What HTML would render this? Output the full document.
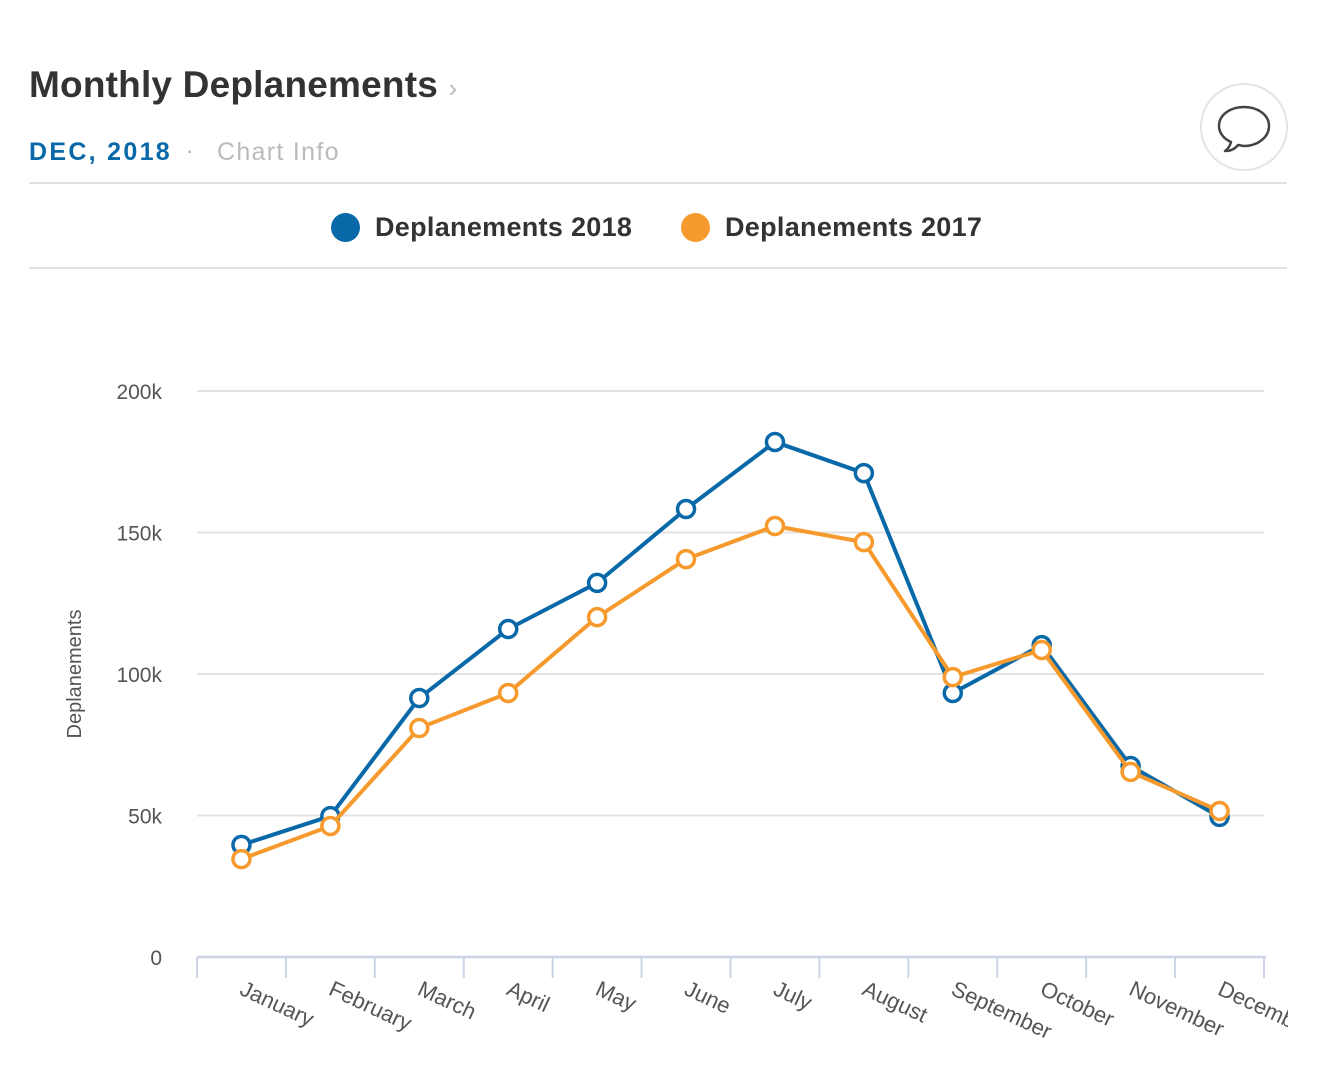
<!DOCTYPE html>
<html><head><meta charset="utf-8"><style>
body{margin:0;width:1326px;height:1086px;background:#fff;font-family:"Liberation Sans",sans-serif;overflow:hidden;position:relative}
.abs{position:absolute}
</style></head><body>
<div class="abs" style="left:29px;top:64px;font-size:37px;font-weight:bold;color:#333;letter-spacing:0.2px">Monthly Deplanements <span style="color:#bbb;font-weight:normal;font-size:26px">›</span></div>
<div class="abs" style="left:29px;top:138px;font-size:25px;font-weight:bold;color:#0868a8;letter-spacing:2.3px">DEC, 2018</div>
<div class="abs" style="left:186px;top:138px;font-size:22px;color:#aaa">·</div>
<div class="abs" style="left:217px;top:138px;font-size:25px;color:#bbb;letter-spacing:1.3px">Chart Info</div>
<div class="abs" style="left:1200px;top:83px;width:84px;height:84px;border:2px solid #e4e4e4;border-radius:50%">
<svg width="84" height="84"><path d="M42 22c-14 0-25 8-25 19 0 7 5 13 12 16 -1 4-3 7-6 9 6 0 10-2 13-6 2 0 4 1 6 1 14 0 25-9 25-20S56 22 42 22z" fill="none" stroke="#444" stroke-width="2.5" stroke-linejoin="round"/></svg></div>
<div class="abs" style="left:29px;top:182px;width:1258px;height:2px;background:#e2e2e2"></div>
<div class="abs" style="left:29px;top:267px;width:1258px;height:2px;background:#e2e2e2"></div>
<div class="abs" style="left:331px;top:212px;font-size:27px;font-weight:bold;color:#333;display:flex;align-items:center;letter-spacing:0.3px"><span style="width:29px;height:29px;border-radius:50%;background:#0868a8;margin-right:15px"></span>Deplanements 2018</div>
<div class="abs" style="left:681px;top:212px;font-size:27px;font-weight:bold;color:#333;display:flex;align-items:center;letter-spacing:0.3px"><span style="width:29px;height:29px;border-radius:50%;background:#f69a2d;margin-right:15px"></span>Deplanements 2017</div>
<svg class="abs" style="left:0;top:0" width="1288" height="1086" id="chart"></svg>
<script>
const categories=["January","February","March","April","May","June","July","August","September","October","November","December"];
const series2018=[39.6,49.8,91.5,115.9,132.2,158.3,182,171,93.3,110.2,67.5,49.5];
const series2017=[34.6,46.3,80.9,93.3,120.1,140.6,152.3,146.6,98.9,108.5,65.4,51.6];
const yTicks=[0,50,100,150,200];
const yTickLabels=["0","50k","100k","150k","200k"];
const NS="http://www.w3.org/2000/svg";
const svg=document.getElementById('chart');
const x0=197,x1=1264,y0=957,y1=391;
const bw=(x1-x0)/categories.length;
function xs(i){return x0+bw*(i+0.5);}
function ys(v){return y0-(v/200)*(y0-y1);}
function mk(t,a){const e=document.createElementNS(NS,t);for(const k in a)e.setAttribute(k,a[k]);svg.appendChild(e);return e;}
yTicks.forEach((t,i)=>{
 if(t>0){const g=mk('line',{x1:x0,x2:x1,y1:ys(t),y2:ys(t),stroke:'#e3e3e3','stroke-width':2});
 
 }
 const l=mk('text',{x:162,y:ys(t)+8,'text-anchor':'end','font-size':21,fill:'#555','font-family':'Liberation Sans'});
 l.textContent=yTickLabels[i];
 
 
});
const yt=mk('text',{transform:'translate(81,674) rotate(-90)','text-anchor':'middle','font-size':20,fill:'#555','font-family':'Liberation Sans'});
yt.textContent='Deplanements';


const ax=mk('line',{x1:x0,x2:x1+2,y1:y0,y2:y0,stroke:'#cbd3e6','stroke-width':2.5});


for(let i=0;i<=categories.length;i++){
 const t=mk('line',{x1:x0+bw*i,x2:x0+bw*i,y1:y0,y2:y0+21,stroke:'#cbd3e6','stroke-width':2});
 
 
}
categories.forEach((c,i)=>{
 const tx=xs(i)-3,ty=y0+37;
 const l=mk('text',{x:tx,y:ty,transform:`rotate(25 ${tx} ${ty})`,'font-size':22,fill:'#555','font-family':'Liberation Sans'});
 l.textContent=c;
 
 
});
function drawSeries(vals,color,name){
 const p=mk('polyline',{points:vals.map((v,i)=>xs(i)+','+ys(v)).join(' '),fill:'none',stroke:color,'stroke-width':4,'stroke-linejoin':'round'});
 
 
 vals.forEach((v,i)=>{
  const c=mk('circle',{cx:xs(i),cy:ys(v),r:8.5,fill:'#fff',stroke:color,'stroke-width':3.5});
  
  
 });
}
drawSeries(series2018,'#0868a8','series-2018');
drawSeries(series2017,'#f69a2d','series-2017');
</script>
</body></html>
